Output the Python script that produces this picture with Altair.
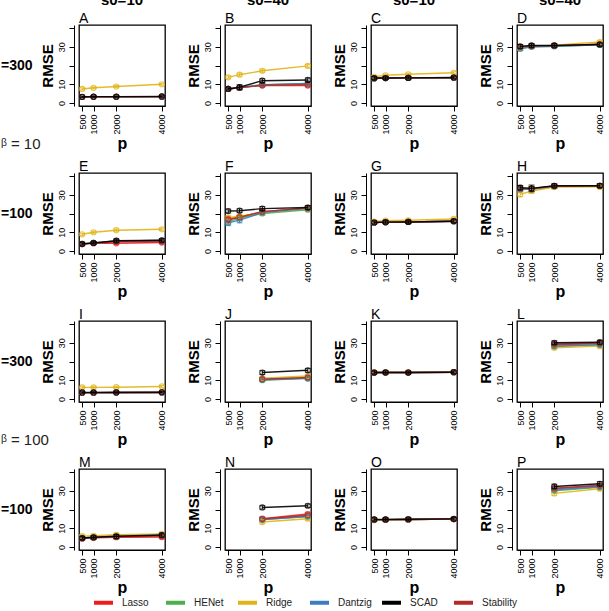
import altair as alt
import pandas as pd

P_VALUES = [500, 1000, 2000, 4000]
METHODS = ["Lasso", "HENet", "Ridge", "Dantzig", "SCAD", "Stability"]
COLORS = ["#EE1C1C", "#4DAF4A", "#E0B416", "#3A7DC0", "#000000", "#B22A2A"]
PANELS = ["A", "B", "C", "D", "E", "F", "G", "H", "I", "J", "K", "L", "M", "N", "O", "P"]
COL_TITLES = ["s0=10", "s0=40", "s0=10", "s0=40"]
ROW_LABELS = ["=300", "=100", "=300", "=100"]
MID_LABELS = ["ᵝ = 10", "ᵝ = 100"]
Y_TICKS = [0, 10, 20, 30, 40]

# RMSE per panel / method at p = 500, 1000, 2000, 4000 (two values: p = 2000, 4000)
RMSE = {
    "A": {"Lasso": [3.2, 3.3, 3.3, 3.4], "HENet": [3.2, 3.3, 3.3, 3.4], "Ridge": [7.5, 8.1, 8.8, 10.0],
          "Dantzig": [3.2, 3.3, 3.3, 3.4], "SCAD": [3.3, 3.4, 3.4, 3.5], "Stability": [3.2, 3.3, 3.3, 3.4]},
    "B": {"Lasso": [7.5, 8.2, 9.3, 9.3], "HENet": [7.5, 8.2, 9.6, 10.4], "Ridge": [13.7, 15.1, 17.2, 19.8],
          "Dantzig": [7.5, 8.2, 9.8, 10.4], "SCAD": [7.5, 8.4, 11.9, 12.3], "Stability": [7.5, 8.2, 9.5, 9.8]},
    "C": {"Lasso": [13.2, 13.3, 13.4, 13.5], "HENet": [13.2, 13.3, 13.4, 13.5], "Ridge": [14.0, 14.8, 15.3, 16.1],
          "Dantzig": [13.0, 13.3, 13.4, 13.5], "SCAD": [13.3, 13.3, 13.4, 13.6], "Stability": [13.2, 13.3, 13.4, 13.5]},
    "D": {"Lasso": [29.8, 30.4, 30.6, 31.3], "HENet": [29.0, 30.0, 30.3, 31.0], "Ridge": [29.3, 30.2, 30.8, 32.5],
          "Dantzig": [29.0, 30.0, 30.3, 31.0], "SCAD": [30.2, 30.7, 30.7, 31.2], "Stability": [30.0, 30.5, 30.6, 31.3]},
    "E": {"Lasso": [3.7, 4.2, 4.1, 4.5], "HENet": [3.8, 4.3, 5.4, 5.6], "Ridge": [8.9, 10.0, 11.1, 11.6],
          "Dantzig": [3.7, 4.3, 5.3, 5.6], "SCAD": [3.8, 4.3, 5.5, 5.7], "Stability": [3.7, 4.2, 4.9, 5.0]},
    "F": {"Lasso": [16.5, 18.0, 21.0, 22.8], "HENet": [15.5, 17.5, 20.0, 22.0], "Ridge": [17.8, 18.5, 20.5, 22.8],
          "Dantzig": [15.0, 16.5, 20.5, 22.8], "SCAD": [21.3, 21.5, 22.6, 23.2], "Stability": [17.0, 18.0, 21.0, 23.0]},
    "G": {"Lasso": [15.2, 15.4, 15.5, 15.9], "HENet": [15.2, 15.4, 15.5, 15.9], "Ridge": [15.7, 16.2, 16.4, 17.1],
          "Dantzig": [15.1, 15.4, 15.5, 15.9], "SCAD": [15.2, 15.4, 15.5, 15.9], "Stability": [15.2, 15.4, 15.5, 15.9]},
    "H": {"Lasso": [33.0, 33.0, 34.5, 34.8], "HENet": [32.8, 33.0, 34.5, 34.8], "Ridge": [30.2, 32.0, 34.1, 34.2],
          "Dantzig": [33.0, 33.0, 34.5, 34.8], "SCAD": [33.8, 33.4, 34.8, 34.8], "Stability": [33.5, 33.3, 34.7, 34.8]},
    "I": {"Lasso": [3.4, 3.4, 3.5, 3.5], "HENet": [3.4, 3.4, 3.5, 3.5], "Ridge": [6.2, 6.2, 6.3, 6.7],
          "Dantzig": [3.4, 3.4, 3.5, 3.5], "SCAD": [3.5, 3.5, 3.5, 3.6], "Stability": [3.4, 3.4, 3.5, 3.5]},
    "J": {"Lasso": [10.5, 11.2], "HENet": [10.0, 11.0], "Ridge": [11.1, 12.3],
          "Dantzig": [10.3, 11.0], "SCAD": [14.1, 15.3], "Stability": [10.6, 11.5]},
    "K": {"Lasso": [14.1, 14.1, 14.1, 14.3], "HENet": [14.1, 14.1, 14.1, 14.3], "Ridge": [14.2, 14.2, 14.2, 14.4],
          "Dantzig": [14.0, 14.1, 14.1, 14.3], "SCAD": [14.1, 14.2, 14.1, 14.3], "Stability": [14.1, 14.1, 14.1, 14.3]},
    "L": {"Lasso": [29.0, 29.5], "HENet": [28.0, 28.8], "Ridge": [27.3, 28.2],
          "Dantzig": [28.3, 29.0], "SCAD": [30.0, 30.3], "Stability": [29.3, 29.8]},
    "M": {"Lasso": [4.5, 4.9, 5.2, 5.3], "HENet": [4.8, 5.2, 5.7, 6.4], "Ridge": [5.8, 6.0, 6.5, 7.0],
          "Dantzig": [4.7, 5.1, 5.6, 6.2], "SCAD": [4.8, 5.2, 5.7, 6.4], "Stability": [4.6, 5.0, 5.4, 5.8]},
    "N": {"Lasso": [15.1, 17.6], "HENet": [14.6, 16.3], "Ridge": [13.3, 15.1],
          "Dantzig": [14.6, 16.3], "SCAD": [21.1, 22.0], "Stability": [14.9, 16.9]},
    "O": {"Lasso": [14.6, 14.6, 14.7, 14.9], "HENet": [14.6, 14.6, 14.7, 14.9], "Ridge": [14.3, 14.5, 14.7, 14.9],
          "Dantzig": [14.5, 14.6, 14.7, 14.9], "SCAD": [14.7, 14.7, 14.8, 15.0], "Stability": [14.6, 14.6, 14.7, 14.9]},
    "P": {"Lasso": [31.1, 32.5], "HENet": [30.0, 31.8], "Ridge": [28.6, 31.1],
          "Dantzig": [30.5, 32.1], "SCAD": [32.3, 33.7], "Stability": [31.4, 32.9]},
}

# half-width of the error bars
SE = {
    "A": {"Lasso": [0.3, 0.3, 0.3, 0.3], "HENet": [0.3, 0.3, 0.3, 0.3], "Ridge": [0.6, 0.5, 0.5, 0.5],
          "Dantzig": [0.3, 0.3, 0.3, 0.3], "SCAD": [0.4, 0.4, 0.4, 0.4], "Stability": [0.3, 0.3, 0.3, 0.3]},
    "B": {"Lasso": [0.5, 0.6, 0.6, 0.6], "HENet": [0.5, 0.6, 0.7, 0.7], "Ridge": [0.8, 0.8, 0.8, 0.8],
          "Dantzig": [0.5, 0.8, 0.7, 0.7], "SCAD": [0.6, 1.4, 1.0, 1.0], "Stability": [0.5, 0.6, 0.6, 0.6]},
    "C": {"Lasso": [0.5, 0.5, 0.5, 0.5], "HENet": [0.5, 0.5, 0.5, 0.5], "Ridge": [0.6, 0.6, 0.6, 0.6],
          "Dantzig": [0.6, 0.5, 0.5, 0.5], "SCAD": [0.8, 0.8, 0.7, 0.7], "Stability": [0.5, 0.5, 0.5, 0.5]},
    "D": {"Lasso": [0.8, 0.8, 0.8, 0.8], "HENet": [1.0, 0.9, 0.8, 0.8], "Ridge": [1.0, 0.9, 0.9, 0.9],
          "Dantzig": [1.0, 0.9, 0.8, 0.8], "SCAD": [1.0, 1.0, 0.9, 0.9], "Stability": [0.8, 0.8, 0.8, 0.8]},
    "E": {"Lasso": [0.5, 0.5, 0.6, 0.6], "HENet": [0.5, 0.5, 0.6, 0.6], "Ridge": [0.6, 0.6, 0.6, 0.6],
          "Dantzig": [0.6, 0.6, 0.6, 0.6], "SCAD": [0.7, 0.7, 0.9, 0.9], "Stability": [0.5, 0.5, 0.6, 0.6]},
    "F": {"Lasso": [1.0, 1.0, 0.9, 0.9], "HENet": [1.2, 1.2, 1.0, 0.9], "Ridge": [1.0, 1.0, 0.9, 0.9],
          "Dantzig": [1.5, 1.5, 1.0, 0.9], "SCAD": [1.0, 1.0, 1.1, 1.1], "Stability": [1.0, 1.0, 0.9, 0.9]},
    "G": {"Lasso": [0.7, 0.7, 0.7, 0.7], "HENet": [0.7, 0.7, 0.7, 0.7], "Ridge": [0.7, 0.7, 0.7, 0.7],
          "Dantzig": [0.7, 0.7, 0.7, 0.7], "SCAD": [0.8, 0.8, 0.8, 0.8], "Stability": [0.7, 0.7, 0.7, 0.7]},
    "H": {"Lasso": [1.0, 1.2, 0.9, 0.9], "HENet": [1.0, 1.2, 0.9, 0.9], "Ridge": [1.2, 1.2, 1.0, 1.0],
          "Dantzig": [1.0, 1.2, 0.9, 0.9], "SCAD": [1.2, 1.8, 1.0, 1.0], "Stability": [1.0, 1.2, 0.9, 0.9]},
    "I": {"Lasso": [0.3, 0.3, 0.3, 0.3], "HENet": [0.3, 0.3, 0.3, 0.3], "Ridge": [0.5, 0.5, 0.5, 0.5],
          "Dantzig": [0.3, 0.3, 0.3, 0.3], "SCAD": [0.4, 0.4, 0.4, 0.4], "Stability": [0.3, 0.3, 0.3, 0.3]},
    "J": {"Lasso": [0.7, 0.7], "HENet": [0.7, 0.7], "Ridge": [0.7, 0.7],
          "Dantzig": [0.7, 0.7], "SCAD": [1.0, 1.0], "Stability": [0.7, 0.7]},
    "K": {"Lasso": [0.6, 0.6, 0.6, 0.6], "HENet": [0.6, 0.6, 0.6, 0.6], "Ridge": [0.6, 0.6, 0.6, 0.6],
          "Dantzig": [0.6, 0.6, 0.6, 0.6], "SCAD": [0.8, 0.8, 0.7, 0.7], "Stability": [0.6, 0.6, 0.6, 0.6]},
    "L": {"Lasso": [0.9, 0.9], "HENet": [0.9, 0.9], "Ridge": [0.9, 0.9],
          "Dantzig": [0.9, 0.9], "SCAD": [1.0, 1.0], "Stability": [0.9, 0.9]},
    "M": {"Lasso": [0.8, 0.8, 0.9, 0.9], "HENet": [0.8, 0.8, 0.9, 0.9], "Ridge": [0.8, 0.8, 0.9, 0.9],
          "Dantzig": [0.8, 0.8, 0.9, 0.9], "SCAD": [0.8, 0.8, 1.0, 1.0], "Stability": [0.8, 0.8, 0.9, 0.9]},
    "N": {"Lasso": [0.9, 0.9], "HENet": [0.9, 0.9], "Ridge": [0.9, 0.9],
          "Dantzig": [0.9, 0.9], "SCAD": [0.9, 0.9], "Stability": [0.9, 0.9]},
    "O": {"Lasso": [0.7, 0.7, 0.7, 0.7], "HENet": [0.7, 0.7, 0.7, 0.7], "Ridge": [0.7, 0.7, 0.7, 0.7],
          "Dantzig": [0.7, 0.7, 0.7, 0.7], "SCAD": [0.8, 0.8, 0.7, 0.7], "Stability": [0.7, 0.7, 0.7, 0.7]},
    "P": {"Lasso": [1.0, 1.0], "HENet": [1.0, 1.0], "Ridge": [1.0, 1.0],
          "Dantzig": [1.0, 1.0], "SCAD": [1.2, 1.2], "Stability": [1.0, 1.0]},
}

FONT = "Liberation Sans"
PANEL_W, PANEL_H = 86, 81


def panel_frame(letter):
    rows = []
    for k, m in enumerate(METHODS):
        vals = RMSE[letter][m]
        ses = SE[letter][m]
        ps = P_VALUES if len(vals) == 4 else P_VALUES[2:]
        for p, v, s in zip(ps, vals, ses):
            rows.append({"p": p, "method": m, "rmse": v, "lo": v - s, "hi": v + s, "top": m == "SCAD"})
    return pd.DataFrame(rows)


x_scale = alt.Scale(domain=[360, 4140], nice=False, zero=False)
y_scale = alt.Scale(domain=[-1.6, 41.6], nice=False, zero=False)
x_axis = alt.Axis(values=P_VALUES, format="d", labelAngle=270, title="p", grid=False, tickSize=5,
                  labelPadding=3, titlePadding=1, offset=0, labelFlush=False, labelOverlap=False)
y_axis = alt.Axis(values=Y_TICKS, labelAngle=270, title="RMSE", grid=False, tickSize=5, offset=5,
                  labelExpr="(datum.value == 20 || datum.value == 40) ? '' : datum.label",
                  labelAlign="center", labelBaseline="bottom", labelPadding=3, titlePadding=2,
                  labelFlush=False, labelOverlap=False)
color_scale = alt.Scale(domain=METHODS, range=COLORS)
legend = alt.Legend(orient="none", legendX=13, legendY=566, direction="horizontal", columns=6,
                    gridAlign="all", symbolType="stroke", symbolStrokeWidth=4, symbolSize=360,
                    title=None, labelFontSize=10, labelColor="#222", labelFont=FONT,
                    columnPadding=0, labelOffset=7, symbolOpacity=1)


def color_enc():
    return alt.Color("method:N", scale=color_scale, legend=legend)


def panel(i, letter):
    df = panel_frame(letter)
    x = alt.X("p:Q", scale=x_scale, axis=x_axis)
    y = alt.Y("rmse:Q", scale=y_scale, axis=y_axis)
    layers = []
    for top in (False, True):
        base = alt.Chart(df).transform_filter(alt.datum.top == top)
        layers.append(base.mark_errorbar(ticks=alt.MarkConfig(size=6), thickness=1).encode(
            x=x, y=alt.Y("lo:Q", scale=y_scale, axis=y_axis, title="RMSE"), y2="hi:Q",
            color=color_enc()))
        layers.append(base.mark_line(strokeWidth=1.4, opacity=0.9).encode(
            x=x, y=y, color=color_enc()))
        layers.append(base.mark_point(filled=False, size=26, strokeWidth=1.1, opacity=0.75).encode(
            x=x, y=y, color=color_enc()))
    layers.append(alt.Chart(pd.DataFrame({"t": [letter]})).mark_text(
        align="left", baseline="alphabetic", fontSize=14, font=FONT, color="black").encode(
        text="t:N", x=alt.value(0), y=alt.value(-2)))
    row, col = divmod(i, 4)
    if row == 0:
        layers.append(alt.Chart(pd.DataFrame({"t": [COL_TITLES[col]]})).mark_text(
            align="center", baseline="alphabetic", fontSize=15, fontWeight="bold", font=FONT,
            color="black").encode(text="t:N", x=alt.value(PANEL_W / 2), y=alt.value(-20)))
    if col == 0:
        layers.append(alt.Chart(pd.DataFrame({"t": [ROW_LABELS[row]]})).mark_text(
            align="left", baseline="middle", fontSize=14, fontWeight="bold", font=FONT,
            color="black").encode(text="t:N", x=alt.value(-78), y=alt.value(41)))
        if row in (0, 2):
            layers.append(alt.Chart(pd.DataFrame({"t": [MID_LABELS[row // 2]]})).mark_text(
                align="left", baseline="middle", fontSize=15, font=FONT,
                color="#222").encode(text="t:N", x=alt.value(-78), y=alt.value(119)))
    return alt.layer(*layers).properties(width=PANEL_W, height=PANEL_H)


charts = [panel(i, L) for i, L in enumerate(PANELS)]

chart = alt.concat(*charts, columns=4, spacing={"row": 67, "column": 60}, bounds="flush").properties(
    padding={"top": -8, "left": 0, "right": 0, "bottom": 2}
).resolve_scale(color="shared").configure(font=FONT).configure_view(
    stroke="black", strokeWidth=1.3
).configure_axis(
    domainColor="black", tickColor="black", labelColor="black", titleColor="black",
    labelFontSize=9, titleFontSize=15, titleFontWeight="bold", labelFont=FONT, titleFont=FONT,
    domainWidth=1, tickWidth=1
).configure_axisX(titleFontSize=16)

chart.save("out.html", embed_options={"renderer": "svg", "actions": False})
